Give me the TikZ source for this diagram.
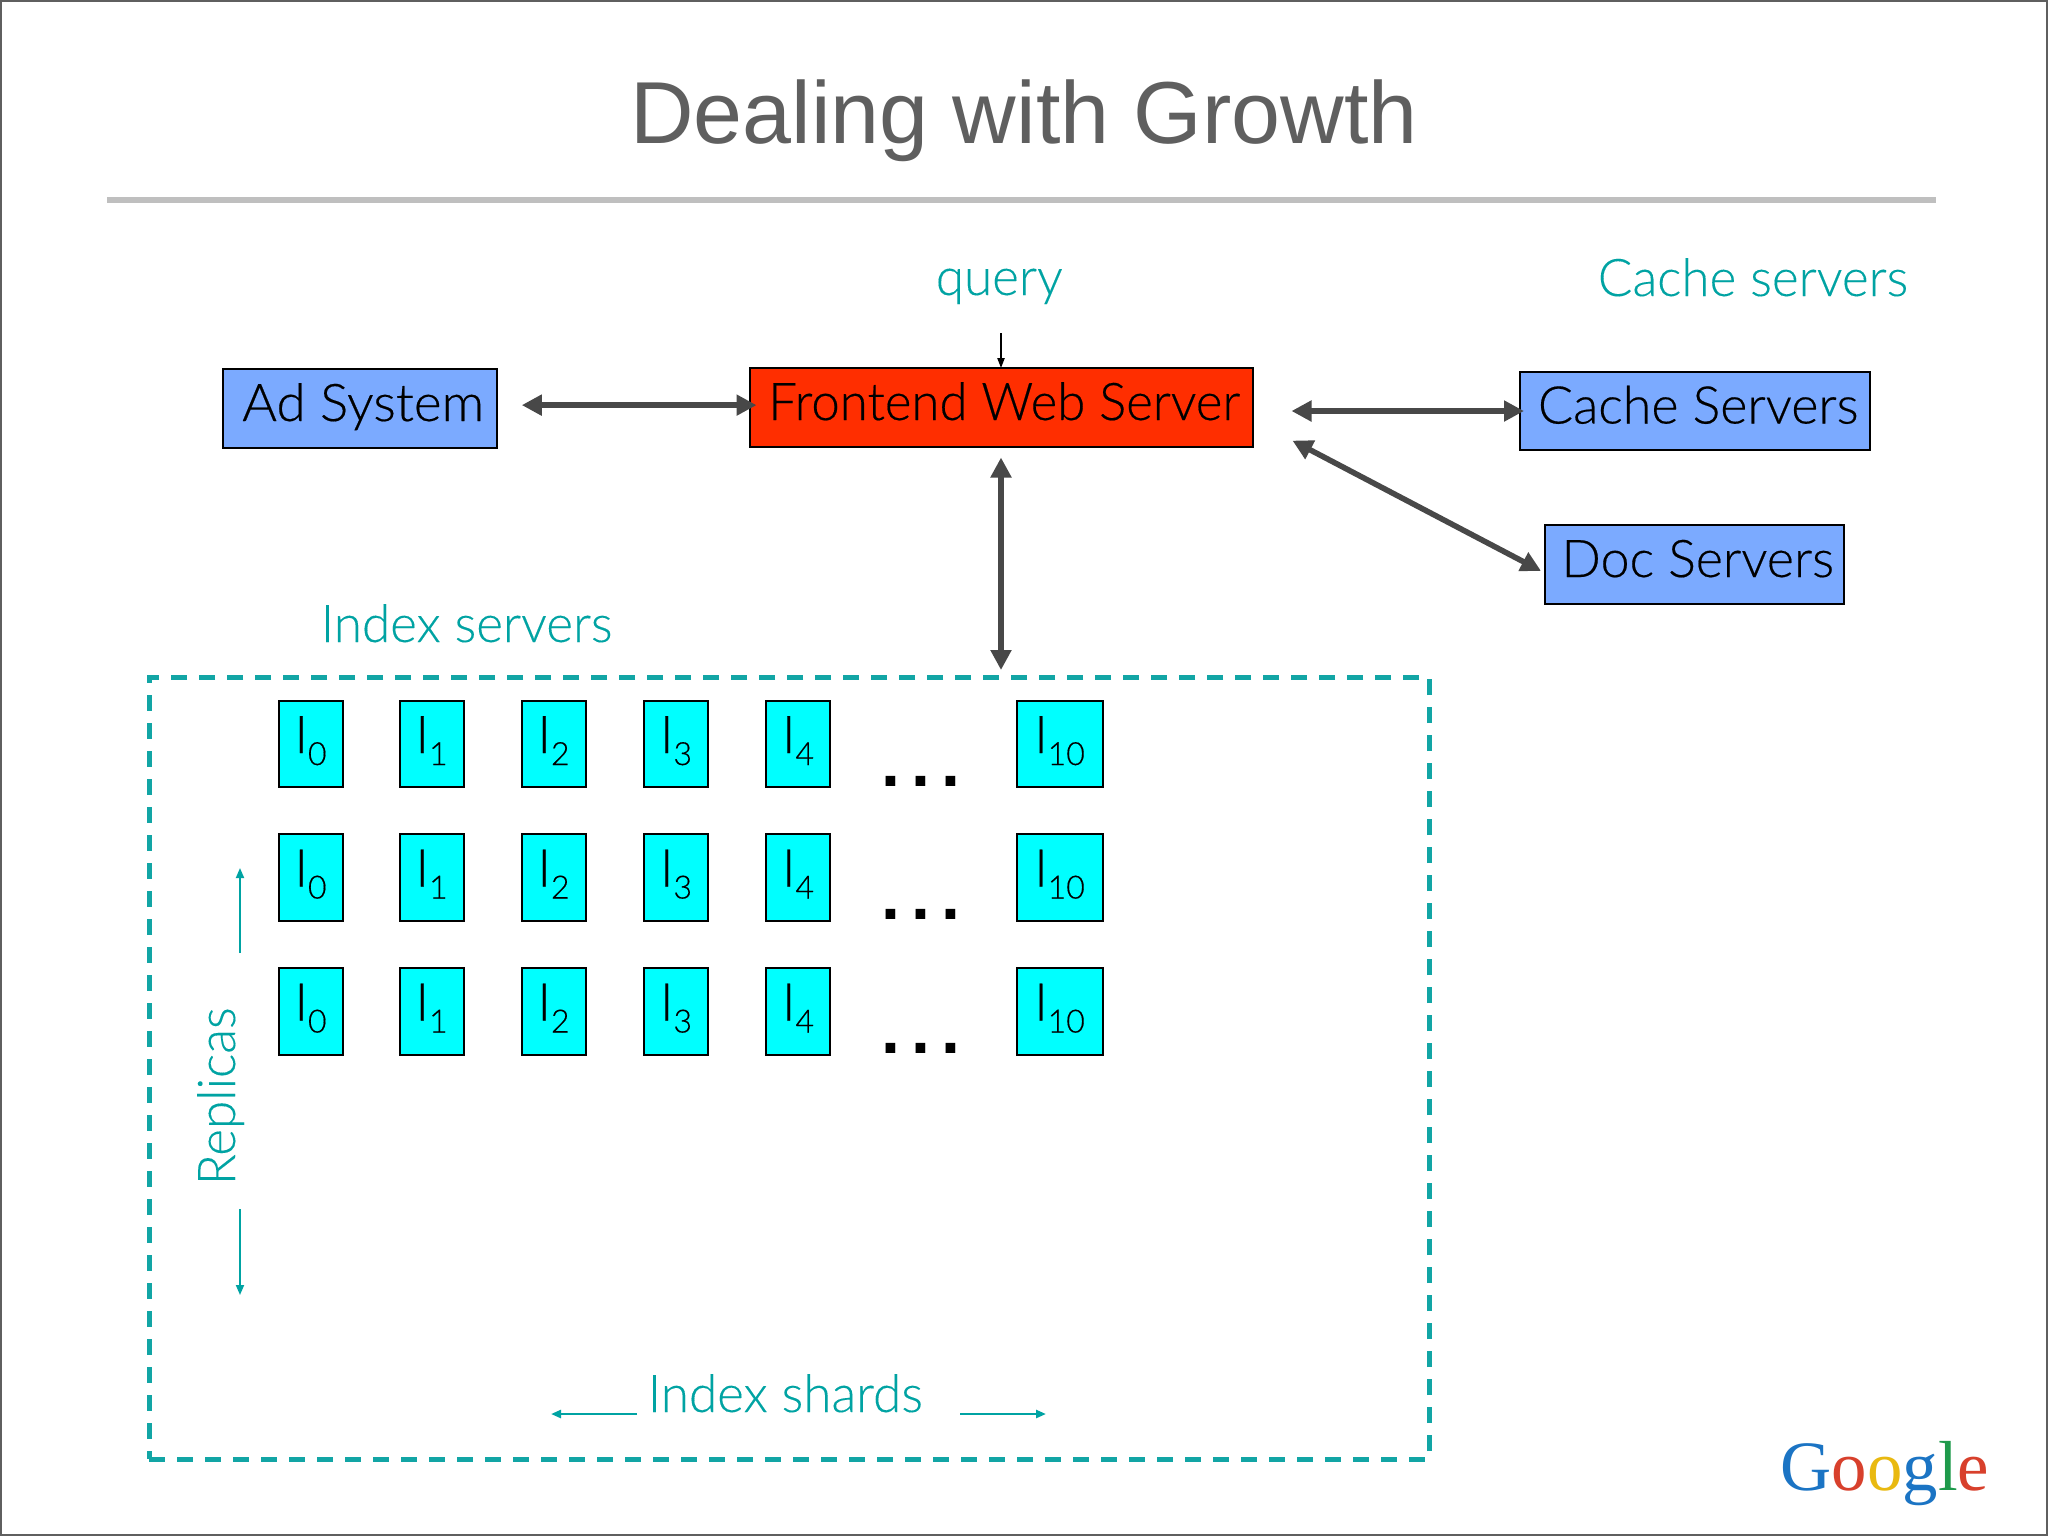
\documentclass[tikz,border=0pt]{standalone}
\usepackage{fontspec}
\setmainfont{Liberation Sans}
\newfontfamily\slidefont[FakeStretch=.985,FakeBold=.15]{Lato Light}
\newfontfamily\boxfont[FakeBold=.35]{Lato Light}
\newfontfamily\logofont{Liberation Serif}
\usetikzlibrary{arrows.meta}
\definecolor{slidegray}{HTML}{5F5F5F}
\definecolor{ruleline}{HTML}{BFBFBF}
\definecolor{teal1}{HTML}{00A3A3}
\definecolor{dashteal}{HTML}{12A5A5}
\definecolor{darkarrow}{HTML}{484848}
\definecolor{adblue}{HTML}{7BAAFF}
\definecolor{webred}{HTML}{FF2E00}
\definecolor{shardcyan}{HTML}{00FFFF}
\newcommand{\shard}[1]{I\raisebox{-3pt}{\fontsize{8}{8}\selectfont #1}}
\tikzset{
  serverbox/.style={draw=black,line width=.5pt,fill=adblue,inner sep=0pt,outer sep=0pt,
    text height=9.25pt,text depth=3pt,font=\boxfont\fontsize{13}{13}\selectfont,
    execute at begin node=\hspace*{1.6pt}},
  shardbox/.style={draw=black,line width=.5pt,fill=shardcyan,inner sep=0pt,outer sep=0pt,
    minimum width=16pt,minimum height=21.6pt,text height=9.5pt,text depth=5pt,
    font=\boxfont\fontsize{13}{13}\selectfont},
  tealtext/.style={text=teal1,inner sep=0pt,anchor=base west,font=\slidefont\fontsize{13}{13}\selectfont},
  dots/.style={inner sep=0pt,anchor=base,font=\bfseries\fontsize{17}{17}\selectfont},
  bigarrow/.style={darkarrow,line width=1.4pt,{Triangle[length=5pt,width=5pt]}-{Triangle[length=5pt,width=5pt]}},
  tinyarrow/.style={line width=.4pt,-{Triangle[length=2.5pt,width=1.8pt]}},
  tealarrow/.style={teal1,line width=.45pt,-{Triangle[length=2.5pt,width=2pt]}},
}
\begin{document}
\begin{tikzpicture}[x=.25pt,y=-.25pt]
\useasboundingbox (0,0) rectangle (2048,1536);
\draw[fill=white,draw=slidegray,line width=.5pt] (1,1) rectangle (2047,1535);
% title
\node[inner sep=0pt,anchor=base,text=slidegray,font=\fontsize{22}{22}\selectfont] (title) at (1024,143) {Dealing with Growth};
\draw[ruleline,line width=1.5pt] (107,200) -- (1936,200);
% servers
\node[serverbox,minimum width=68.5pt,minimum height=19.75pt] (ad) at (360,408.5) {\scalebox{1.02}[1]{Ad System}};
\node[serverbox,fill=webred,minimum width=125.75pt,minimum height=19.75pt] (fe) at (1001,407.5) {\scalebox{.98}[1]{Frontend Web Server}};
\node[serverbox,minimum width=87.5pt,minimum height=19.5pt] (cache) at (1695,411) {Cache Servers};
\node[serverbox,minimum width=74.75pt,minimum height=19.75pt] (doc) at (1694.5,564.5) {Doc Servers};
\node[tealtext] (query) at (935,295) {query};
\node[tealtext] (cachelabel) at (1597,296) {Cache servers};
\node[tealtext] (indexlabel) at (320,642) {Index servers};
% index box
\node[draw=dashteal,line width=1.25pt,dash pattern=on 4pt off 3pt,inner sep=0pt,outer sep=0pt,
  minimum width=320pt,minimum height=195.5pt] (index) at (789,1068) {};
\foreach \r/\y in {0/744,1/877.5,2/1011.5} {
  \foreach \c/\x in {0/310.5,1/431.6,2/553.5,3/676,4/798}
    \node[shardbox] (i\r\c) at (\x,\y) {\shard{\c}};
  \node[shardbox,minimum width=21.5pt] (i\r10) at (1059.5,\y) {\shard{10}};
  \node[dots] (dots\r) at (921,\y+42) {.\hspace{2.8pt}.\hspace{2.8pt}.};
}
% labels in the box
\node[tealtext,rotate=90] (replicas) at (235,1186) {Replicas};
\node[tealtext] (shards) at (647,1412) {Index shards};
\coordinate (repuptail) at (240,953);
\coordinate (repuphead) at (240,868);
\coordinate (repdowntail) at (240,1209);
\coordinate (repdownhead) at (240,1295);
\coordinate (shleft) at (551,1414);
\coordinate (shright) at (1046,1414);
\coordinate (querytail) at (1001,333);
\draw[tealarrow] (repuptail) -- (repuphead);
\draw[tealarrow] (repdowntail) -- (repdownhead);
\draw[tealarrow,line width=.6pt] (637,1414) -- (shleft);
\draw[tealarrow,line width=.6pt] (960,1414) -- (shright);
% connectors
\draw[tinyarrow] (querytail) -- (fe.north);
\draw[bigarrow,shorten <=6.2pt,shorten >=-1.75pt] ([yshift=.85pt]ad.east) -- ([yshift=.6pt]fe.west);
\draw[bigarrow,shorten <=9.75pt,shorten >=-1pt] (fe.east |- cache.west) -- (cache.west);
\draw[bigarrow,shorten >=1.75pt] (fe.south) ++(0,10.5) -- (fe.south |- index.north);
\draw[bigarrow] ([xshift=10pt,yshift=1.6pt]fe.south east) -- ([xshift=-1pt,yshift=-1.6pt]doc.west);
% logo
\node[inner sep=0pt,anchor=base west,font=\logofont\fontsize{17.7}{17.7}\selectfont] (logo) at (1780,1490)
  {\textcolor[HTML]{1B74C4}{G}\textcolor[HTML]{D8402C}{o}\textcolor[HTML]{E9B910}{o}\textcolor[HTML]{1B74C4}{g}\textcolor[HTML]{1E9A4B}{l}\textcolor[HTML]{D8402C}{e}};
\end{tikzpicture}
\end{document}
